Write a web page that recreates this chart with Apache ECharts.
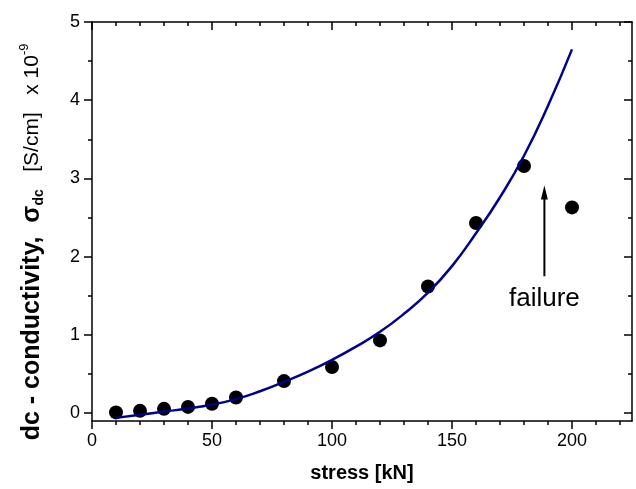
<!DOCTYPE html>
<html><head><meta charset="utf-8">
<script src="https://cdn.jsdelivr.net/npm/echarts@6/dist/echarts.min.js"></script>
<style>html,body{margin:0;padding:0;background:#fff}#c{width:636px;height:489px}</style>
</head><body><div id="c"></div>
<script>
// measured points
const stressPts = [10, 20, 30, 40, 50, 60, 80, 100, 120, 140, 160, 180, 200];
const sigmaPts  = [0.01, 0.03, 0.055, 0.08, 0.12, 0.20, 0.41, 0.59, 0.93, 1.62, 2.43, 3.16, 2.63];
// fitted curve
const fitStress = [10, 20, 30, 40, 50, 60, 70, 80, 90, 100, 110, 120, 130, 140, 150, 160, 170, 180, 190, 200];
const fitSigma  = [-0.06, -0.02, 0.02, 0.06, 0.11, 0.18, 0.28, 0.40, 0.53, 0.68, 0.85, 1.04, 1.27, 1.54, 1.88, 2.30, 2.76, 3.29, 3.93, 4.65];
// axis ticks
const xMajor = [0, 50, 100, 150, 200];
const xMinor = [10, 20, 30, 40, 60, 70, 80, 90, 110, 120, 130, 140, 160, 170, 180, 190, 210, 220];
const yMajor = [0, 1, 2, 3, 4, 5];
const yMinor = [0.5, 1.5, 2.5, 3.5, 4.5];
// annotation
const arrowStress = [188.5, 188.5];
const arrowSigma  = [1.75, 2.82];
const noteStress = [188.5];
const noteSigma  = [1.46];
const noteText = 'failure';

const FONT = 'Liberation Sans, Arial, sans-serif';
const gridBox = {left: 92, right: 4, top: 22, bottom: 68, containLabel: false, outerBoundsMode: 'none'};

function axLine(grid) {
  return {show: grid === 0, onZero: false, lineStyle: {color: '#000', width: 1.5}};
}
function xAx(grid, pos, ticks, len, inside, labels, extra) {
  return Object.assign({
    type: 'value', gridIndex: grid, position: pos, min: 0, max: 225,
    axisLine: axLine(grid),
    axisTick: {show: true, inside: inside, length: len, customValues: ticks, lineStyle: {color: '#000', width: 1.5}},
    axisLabel: labels ? {show: true, customValues: labels, fontSize: 18, color: '#000', fontFamily: FONT, margin: 11} : {show: false},
    splitLine: {show: false}
  }, extra || {});
}
function yAx(grid, pos, ticks, len, inside, labels, extra) {
  return Object.assign({
    type: 'value', gridIndex: grid, position: pos, min: -0.1, max: 5,
    axisLine: axLine(grid),
    axisTick: {show: true, inside: inside, length: len, customValues: ticks, lineStyle: {color: '#000', width: 1.5}},
    axisLabel: labels ? {show: true, customValues: labels, fontSize: 18, color: '#000', fontFamily: FONT, margin: 12} : {show: false},
    splitLine: {show: false}
  }, extra || {});
}

const chart = echarts.init(document.getElementById('c'), null, {renderer: 'canvas'});
chart.setOption({
  animation: false,
  backgroundColor: '#fff',
  grid: [Object.assign({}, gridBox), Object.assign({}, gridBox)],
  xAxis: [
    xAx(0, 'bottom', xMajor, 8, false, xMajor, {
      name: 'stress [kN]', nameLocation: 'middle', nameGap: 42,
      nameTextStyle: {fontSize: 20, fontWeight: 'bold', color: '#000', fontFamily: FONT}
    }),
    xAx(0, 'top', xMajor, 8, true, null),
    xAx(1, 'bottom', xMinor, 4, false, null),
    xAx(1, 'top', xMinor, 4, true, null)
  ],
  yAxis: [
    yAx(0, 'left', yMajor, 8, false, yMajor, {
      name: '{b|dc - conductivity,  σ}{bs|dc}{n|   [S/cm]   x 10}{sup|-9}{n|       }',
      nameLocation: 'middle', nameRotate: 90, nameGap: 46,
      nameTextStyle: {
        color: '#000', fontFamily: FONT,
        rich: {
          b: {fontSize: 25, fontWeight: 'bold', fontFamily: FONT, color: '#000', lineHeight: 28, verticalAlign: 'middle'},
          bs: {fontSize: 14, fontWeight: 'bold', fontFamily: FONT, color: '#000', lineHeight: 14, verticalAlign: 'bottom'},
          n: {fontSize: 21, fontFamily: FONT, color: '#000', lineHeight: 28, verticalAlign: 'middle'},
          sup: {fontSize: 13, fontFamily: FONT, color: '#000', lineHeight: 13, verticalAlign: 'top'}
        }
      }
    }),
    yAx(0, 'right', yMajor, 8, true, null),
    yAx(1, 'left', yMinor, 4, false, null),
    yAx(1, 'right', yMinor, 4, true, null)
  ],
  series: [
    {
      type: 'scatter', xAxisIndex: 0, yAxisIndex: 0, z: 2,
      symbol: 'circle', symbolSize: 14, itemStyle: {color: '#000', opacity: 1},
      data: stressPts.map((x, i) => [x, sigmaPts[i]])
    },
    {
      type: 'line', xAxisIndex: 0, yAxisIndex: 0, z: 3,
      smooth: true, symbol: 'none', showSymbol: false,
      lineStyle: {color: '#00008b', width: 2.5},
      data: fitStress.map((x, i) => [x, fitSigma[i]])
    },
    {
      type: 'line', xAxisIndex: 0, yAxisIndex: 0, z: 4,
      lineStyle: {color: '#000', width: 2}, itemStyle: {color: '#000', opacity: 1},
      symbolKeepAspect: true,
      data: [
        {value: [arrowStress[0], arrowSigma[0]], symbol: 'none'},
        {value: [arrowStress[1], arrowSigma[1]], symbol: 'triangle', symbolSize: [7, 14]}
      ]
    },
    {
      type: 'scatter', xAxisIndex: 0, yAxisIndex: 0, z: 5,
      symbol: 'circle', symbolSize: 0.1, itemStyle: {color: '#000', opacity: 1},
      label: {show: true, position: 'inside', formatter: noteText, fontSize: 26, color: '#000',
              textBorderWidth: 0, opacity: 1, fontFamily: FONT},
      data: noteStress.map((x, i) => [x, noteSigma[i]])
    }
  ]
});
</script>
</body></html>
